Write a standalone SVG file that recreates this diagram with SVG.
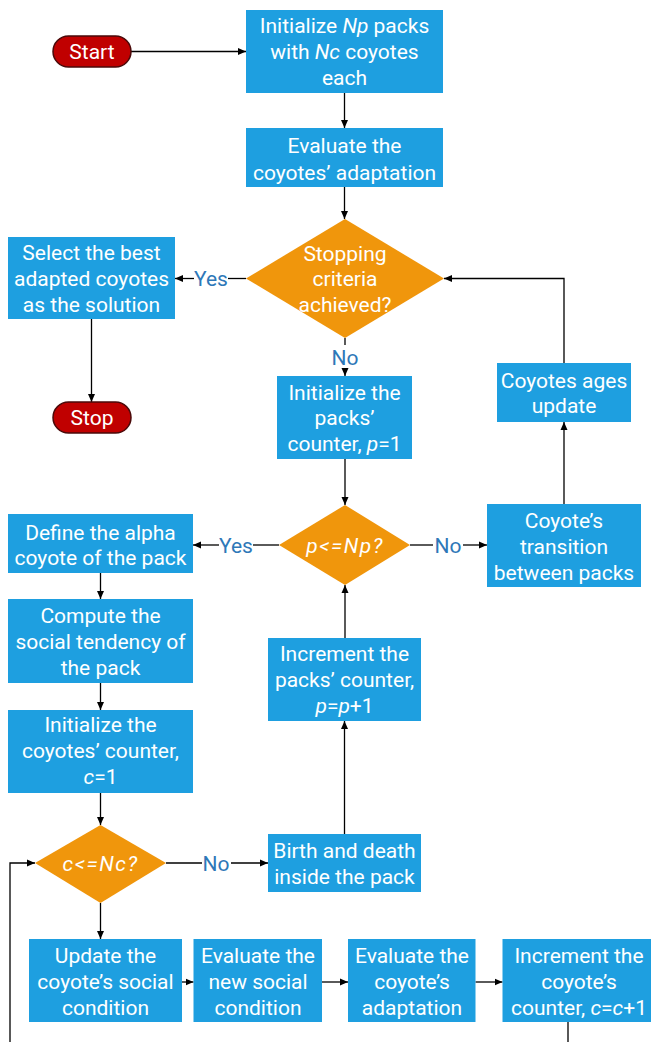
<svg xmlns="http://www.w3.org/2000/svg" width="651" height="1042" viewBox="0 0 651 1042">
<defs>
<marker id="ah" markerUnits="userSpaceOnUse" markerWidth="9" markerHeight="8" refX="8" refY="4" orient="auto">
<path d="M0,0.5 L8,4 L0,7.5 Z" fill="#000"/>
</marker>
<style>
.box{fill:#1e9fe0;}
.dia{fill:#f0960c;}
.term{fill:#c00000;stroke:#4a0a0a;stroke-width:1.5;}
.t{font-family:Roboto,"Noto Sans","DejaVu Sans",sans-serif;font-size:21px;fill:#ffffff;text-anchor:middle;}
.lbl{font-family:Roboto,"Noto Sans","DejaVu Sans",sans-serif;font-size:21px;fill:#2e78b8;text-anchor:middle;}
.cond{font-style:italic;letter-spacing:1.5px;}
.c{fill:none;stroke:#000;stroke-width:1.3;}
.a{fill:none;stroke:#000;stroke-width:1.3;marker-end:url(#ah);}
</style>
</defs>
<rect width="651" height="1042" fill="#ffffff"/>
<g id="connectors">
<line class="a" x1="131" y1="51.5" x2="246" y2="51.5"/>
<line class="a" x1="344.5" y1="93" x2="344.5" y2="128"/>
<line class="a" x1="344.5" y1="187" x2="344.5" y2="219"/>
<line class="c" x1="246" y1="278.5" x2="228" y2="278.5"/>
<line class="a" x1="194" y1="278.5" x2="175" y2="278.5"/>
<text class="lbl" x="211" y="286">Yes</text>
<line class="a" x1="91.5" y1="319" x2="91.5" y2="402"/>
<line class="c" x1="345" y1="338" x2="345" y2="345"/>
<text class="lbl" x="345" y="364.5">No</text>
<line class="a" x1="345" y1="369" x2="345" y2="376"/>
<path class="a" d="M564,363 V278.5 H444"/>
<line class="a" x1="564" y1="504" x2="564" y2="422"/>
<line class="a" x1="345" y1="459" x2="345" y2="505"/>
<line class="c" x1="279" y1="545" x2="253" y2="545"/>
<text class="lbl" x="236" y="552.5">Yes</text>
<line class="a" x1="219" y1="545" x2="193" y2="545"/>
<line class="c" x1="410" y1="545" x2="433" y2="545"/>
<text class="lbl" x="448" y="552.5">No</text>
<line class="a" x1="463" y1="545" x2="487" y2="545"/>
<line class="a" x1="100.5" y1="573" x2="100.5" y2="599"/>
<line class="a" x1="100.5" y1="683" x2="100.5" y2="710"/>
<line class="a" x1="345" y1="638" x2="345" y2="585"/>
<line class="a" x1="344.5" y1="834" x2="344.5" y2="721"/>
<line class="a" x1="100.5" y1="793" x2="100.5" y2="825"/>
<line class="c" x1="166" y1="863" x2="202" y2="863"/>
<text class="lbl" x="216" y="870.5">No</text>
<line class="a" x1="231" y1="863" x2="268" y2="863"/>
<line class="a" x1="100.5" y1="903" x2="100.5" y2="939"/>
<line class="a" x1="182" y1="982" x2="193.5" y2="982"/>
<line class="a" x1="322" y1="982" x2="348" y2="982"/>
<line class="a" x1="475.5" y1="982" x2="502.5" y2="982"/>
<path class="a" d="M568,1022 V1050 H10 V863 H35"/>
</g>
<g id="start">
<rect class="term" x="53" y="36" width="78" height="31" rx="15.5"/>
<text class="t" x="92" y="59">Start</text>
</g>
<g id="init-packs">
<rect class="box" x="246" y="10" width="197" height="83"/>
<text class="t" x="344.5" y="32.5">Initialize <tspan font-style="italic">Np</tspan> packs</text>
<text class="t" x="344.5" y="58.5">with <tspan font-style="italic">Nc</tspan> coyotes</text>
<text class="t" x="344.5" y="84.5">each</text>
</g>
<g id="evaluate-adaptation">
<rect class="box" x="246" y="128" width="197" height="59"/>
<text class="t" x="344.5" y="152.5">Evaluate the</text>
<text class="t" x="344.5" y="179.5">coyotes’ adaptation</text>
</g>
<g id="stopping-criteria">
<polygon class="dia" points="345,219 444,278.5 345,338 246,278.5"/>
<text class="t" x="345" y="260.5">Stopping</text>
<text class="t" x="345" y="285.5">criteria</text>
<text class="t" x="345" y="312">achieved?</text>
</g>
<g id="select-best">
<rect class="box" x="8" y="237" width="167" height="82"/>
<text class="t" x="91.5" y="259.5">Select the best</text>
<text class="t" x="91.5" y="285.5">adapted coyotes</text>
<text class="t" x="91.5" y="311.5">as the solution</text>
</g>
<g id="stop">
<rect class="term" x="53" y="402" width="78" height="31" rx="15.5"/>
<text class="t" x="92" y="425">Stop</text>
</g>
<g id="init-pack-counter">
<rect class="box" x="277" y="376" width="135" height="83"/>
<text class="t" x="344.5" y="399.5">Initialize the</text>
<text class="t" x="344.5" y="424.5">packs’</text>
<text class="t" x="344.5" y="450.5">counter, <tspan font-style="italic">p</tspan>=1</text>
</g>
<g id="ages-update">
<rect class="box" x="497" y="363" width="134" height="59"/>
<text class="t" x="564" y="387.5">Coyotes ages</text>
<text class="t" x="564" y="412.5">update</text>
</g>
<g id="pack-check">
<polygon class="dia" points="345,505 410,545 345,585 279,545"/>
<text class="t cond" x="345" y="552.5">p&lt;=Np?</text>
</g>
<g id="define-alpha">
<rect class="box" x="8" y="514" width="185" height="59"/>
<text class="t" x="100.5" y="539.5">Define the alpha</text>
<text class="t" x="100.5" y="564.5">coyote of the pack</text>
</g>
<g id="transition">
<rect class="box" x="487" y="504" width="154" height="83"/>
<text class="t" x="564" y="527.5">Coyote’s</text>
<text class="t" x="564" y="553.5">transition</text>
<text class="t" x="564" y="579.5">between packs</text>
</g>
<g id="social-tendency">
<rect class="box" x="8" y="599" width="185" height="84"/>
<text class="t" x="100.5" y="622.5">Compute the</text>
<text class="t" x="100.5" y="648.5">social tendency of</text>
<text class="t" x="100.5" y="674.5">the pack</text>
</g>
<g id="increment-packs">
<rect class="box" x="268" y="638" width="153" height="83"/>
<text class="t" x="344.5" y="660.5">Increment the</text>
<text class="t" x="344.5" y="687">packs’ counter,</text>
<text class="t" x="344.5" y="712.5"><tspan font-style="italic">p</tspan>=<tspan font-style="italic">p</tspan>+1</text>
</g>
<g id="init-coyote-counter">
<rect class="box" x="8" y="710" width="185" height="83"/>
<text class="t" x="100.5" y="731.5">Initialize the</text>
<text class="t" x="100.5" y="757.5">coyotes’ counter,</text>
<text class="t" x="100.5" y="783.5"><tspan font-style="italic">c</tspan>=1</text>
</g>
<g id="coyote-check">
<polygon class="dia" points="100.5,825 166,863 100.5,903 35,863"/>
<text class="t cond" x="100.5" y="870.5">c&lt;=Nc?</text>
</g>
<g id="birth-death">
<rect class="box" x="268" y="834" width="153" height="58"/>
<text class="t" x="344.5" y="857.5">Birth and death</text>
<text class="t" x="344.5" y="883.5">inside the pack</text>
</g>
<g id="update-social">
<rect class="box" x="29" y="939" width="153" height="83"/>
<text class="t" x="105.5" y="962.5">Update the</text>
<text class="t" x="105.5" y="989">coyote’s social</text>
<text class="t" x="105.5" y="1014.5">condition</text>
</g>
<g id="evaluate-social">
<rect class="box" x="193.5" y="939" width="128.5" height="83"/>
<text class="t" x="258" y="962.5">Evaluate the</text>
<text class="t" x="258" y="989">new social</text>
<text class="t" x="258" y="1014.5">condition</text>
</g>
<g id="evaluate-coyote">
<rect class="box" x="348" y="939" width="127.5" height="83"/>
<text class="t" x="412" y="962.5">Evaluate the</text>
<text class="t" x="412" y="989">coyote’s</text>
<text class="t" x="412" y="1014.5">adaptation</text>
</g>
<g id="increment-coyote">
<rect class="box" x="502.5" y="939" width="152" height="83"/>
<text class="t" x="579" y="962.5">Increment the</text>
<text class="t" x="579" y="989">coyote’s</text>
<text class="t" x="579" y="1014.5">counter, <tspan font-style="italic">c</tspan>=<tspan font-style="italic">c</tspan>+1</text>
</g>
</svg>
